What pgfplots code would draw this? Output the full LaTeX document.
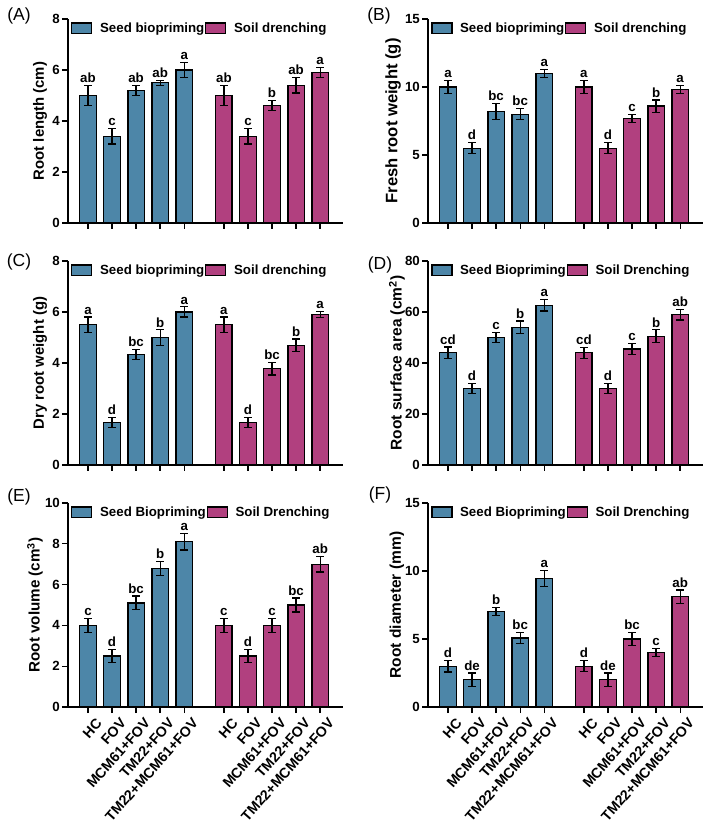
\documentclass[border=0pt]{standalone}
\usepackage{pgfplots}
\pgfplotsset{compat=1.18}
\usepackage{pgfplotstable}
\usepackage{fontspec}
\setmainfont{Liberation Sans}

\definecolor{seedblue}{HTML}{4D86A8}
\definecolor{soilpink}{HTML}{B1407F}

% x: bar position, y: mean, e: error, l: significance letter
% (A) Root length
\pgfplotstableread{
x y e l
0 5.0 0.4 ab
1 3.4 0.3 c
2 5.2 0.2 ab
3 5.5 0.1 ab
4 6.0 0.3 a
}\rlseed
\pgfplotstableread{
x y e l
5.65 5.0 0.4 ab
6.65 3.4 0.3 c
7.65 4.6 0.2 b
8.65 5.4 0.3 ab
9.65 5.9 0.2 a
}\rlsoil
% (B) Fresh root weight
\pgfplotstableread{
x y e l
0 10.0 0.5 a
1 5.5 0.4 d
2 8.2 0.6 bc
3 8.0 0.4 bc
4 11.0 0.3 a
}\frseed
\pgfplotstableread{
x y e l
5.65 10.0 0.5 a
6.65 5.5 0.4 d
7.65 7.7 0.3 c
8.65 8.6 0.45 b
9.65 9.8 0.3 a
}\frsoil
% (C) Dry root weight
\pgfplotstableread{
x y e l
0 5.5 0.3 a
1 1.66 0.2 d
2 4.34 0.2 bc
3 5.0 0.3 b
4 6.0 0.2 a
}\drseed
\pgfplotstableread{
x y e l
5.65 5.5 0.3 a
6.65 1.66 0.2 d
7.65 3.77 0.24 bc
8.65 4.7 0.24 b
9.65 5.9 0.11 a
}\drsoil
% (D) Root surface area
\pgfplotstableread{
x y e l
0 44.1 2.2 cd
1 30.0 2.0 d
2 50.0 2.0 c
3 54.0 2.5 b
4 62.7 2.3 a
}\saseed
\pgfplotstableread{
x y e l
5.65 44.0 2.2 cd
6.65 30.0 2.0 d
7.65 45.5 2.3 c
8.65 50.5 2.5 b
9.65 59.0 2.1 ab
}\sasoil
% (E) Root volume
\pgfplotstableread{
x y e l
0 4.0 0.33 c
1 2.5 0.33 d
2 5.1 0.34 bc
3 6.8 0.34 b
4 8.1 0.4 a
}\rvseed
\pgfplotstableread{
x y e l
5.65 4.0 0.33 c
6.65 2.5 0.33 d
7.65 4.0 0.33 c
8.65 5.0 0.34 bc
9.65 7.0 0.38 ab
}\rvsoil
% (F) Root diameter
\pgfplotstableread{
x y e l
0 3.0 0.43 d
1 2.0 0.5 de
2 7.0 0.3 b
3 5.07 0.43 bc
4 9.44 0.6 a
}\rdseed
\pgfplotstableread{
x y e l
5.65 3.0 0.4 d
6.65 2.0 0.5 de
7.65 5.0 0.5 bc
8.65 4.0 0.3 c
9.65 8.1 0.5 ab
}\rdsoil

\newcommand{\tickfont}{\fontsize{13.3bp}{15bp}\selectfont\bfseries}

\pgfplotsset{
  panel/.style={
    scale only axis, width=275bp, height=204bp,
    xmin=-0.83, xmax=10.6, ymin=0,
    axis x line*=bottom, axis y line*=left,
    axis line style={line width=1.4bp, black},
    every tick/.style={black, line width=1.3bp},
    tick align=outside, major tick length=6bp,
    xtick={0,1,2,3,4,5.65,6.65,7.65,8.65,9.65},
    xticklabels={},
    /pgf/number format/assume math mode=true,
    tick label style={font=\tickfont},
    yticklabel style={inner sep=2bp},
    clip=false,
    legend columns=2,
    legend style={draw=none, fill=none, font=\tickfont,
      at={(axis description cs:0.012,0.955)}, anchor=west,
      inner sep=0pt, outer sep=0pt,
      /tikz/every even column/.append style={column sep=-1bp}},
    legend cell align=left,
  },
  ylab/.style 2 args={ylabel style={font=\fontsize{#1}{#1}\selectfont\bfseries,
      at={(axis description cs:#2,0.5)}, anchor=center}},
  treat/.style={
    xticklabels={HC,FOV,MCM61+FOV,TM22+FOV,TM22+MCM61+FOV,HC,FOV,MCM61+FOV,TM22+FOV,TM22+MCM61+FOV},
    xticklabel style={rotate=48.5, anchor=north east, inner sep=1bp, yshift=-7bp, xshift=3bp,
      font=\fontsize{14.2bp}{15bp}\selectfont\bfseries},
  },
  bars/.style={ybar, bar width=0.68, bar shift=0pt, draw=black, line width=1.2bp, fill=#1,
    forget plot,
    error bars/.cd, y dir=both, y explicit,
    error bar style={line width=1.2bp, black},
    error mark options={rotate=90, mark size=4bp, line width=1.2bp, black}},
  letters/.style={only marks, mark=*, mark size=0pt, mark options={draw=none, fill=none},
    forget plot, nodes near coords, point meta=explicit symbolic,
    nodes near coords style={anchor=south, font=\tickfont, black, inner sep=2.5bp}},
  patch/.style={legend image code/.code={%
      \draw[draw=black, line width=1.2bp, fill=#1] (0bp,-5.2bp) rectangle (20bp,5.2bp);
      \path (26bp,0bp);}},
}

\newcommand{\panelbars}[2]{%
  \addplot[bars=seedblue] table[x=x, y=y, y error=e] {#1};
  \addplot[bars=soilpink] table[x=x, y=y, y error=e] {#2};
  \addplot[letters] table[x=x, y expr=\thisrow{y}+\thisrow{e}, meta=l] {#1};
  \addplot[letters] table[x=x, y expr=\thisrow{y}+\thisrow{e}, meta=l] {#2};
  \addlegendimage{patch=seedblue}
  \addlegendimage{patch=soilpink}
}

\begin{document}
\begin{tikzpicture}
\tikzset{plab/.style={font=\fontsize{17.5bp}{17.5bp}\selectfont, anchor=center}}

% (A)
\begin{axis}[panel, at={(68bp,609bp)}, anchor=south west,
  ymax=8, ytick={0,2,4,6,8}, ylab={14.9bp}{-0.102},
  ylabel={Root length (cm)}]
  \panelbars{\rlseed}{\rlsoil}
  \legend{Seed biopriming, Soil drenching}
\end{axis}
% (B)
\begin{axis}[panel, at={(428bp,609bp)}, anchor=south west,
  ymax=15, ytick={0,5,10,15}, ylab={16.6bp}{-0.127},
  ylabel={Fresh root weight (g)}]
  \panelbars{\frseed}{\frsoil}
  \legend{Seed biopriming, Soil drenching}
\end{axis}
% (C)
\begin{axis}[panel, at={(68bp,367bp)}, anchor=south west,
  ymax=8, ytick={0,2,4,6,8}, ylab={14.9bp}{-0.102},
  ylabel={Dry root weight (g)}]
  \panelbars{\drseed}{\drsoil}
  \legend{Seed biopriming, Soil drenching}
\end{axis}
% (D)
\begin{axis}[panel, at={(428bp,367bp)}, anchor=south west,
  ymax=80, ytick={0,20,40,60,80}, ylab={15.5bp}{-0.113},
  ylabel={Root surface area (cm\textsuperscript{2})}]
  \panelbars{\saseed}{\sasoil}
  \legend{Seed Biopriming, Soil Drenching}
\end{axis}
% (E)
\begin{axis}[panel, treat, at={(68bp,125bp)}, anchor=south west,
  ymax=10, ytick={0,2,4,6,8,10}, ylab={15.2bp}{-0.12},
  ylabel={Root volume (cm\textsuperscript{3})}]
  \panelbars{\rvseed}{\rvsoil}
  \legend{Seed Biopriming, Soil Drenching}
\end{axis}
% (F)
\begin{axis}[panel, treat, at={(428bp,125bp)}, anchor=south west,
  ymax=15, ytick={0,5,10,15}, ylab={15.5bp}{-0.113},
  ylabel={Root diameter (mm)}]
  \panelbars{\rdseed}{\rdsoil}
  \legend{Seed Biopriming, Soil Drenching}
\end{axis}

\node[plab] at (19bp,816bp) {(A)};
\node[plab] at (379bp,816bp) {(B)};
\node[plab] at (19bp,570bp) {(C)};
\node[plab] at (380bp,567bp) {(D)};
\node[plab] at (19bp,335bp) {(E)};
\node[plab] at (380bp,337bp) {(F)};

\pgfresetboundingbox
\path[use as bounding box] (0bp,0bp) rectangle (709bp,832bp);
\end{tikzpicture}
\end{document}
